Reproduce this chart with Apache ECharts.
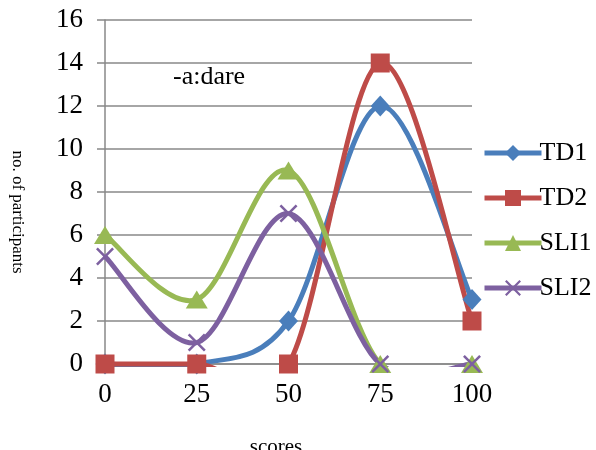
<!DOCTYPE html>
<html><head><meta charset="utf-8">
<script src="https://cdn.jsdelivr.net/npm/echarts@6/dist/echarts.min.js"></script>
<style>html,body{margin:0;padding:0;background:#fff}#c{width:596px;height:450px}</style>
</head><body><div id="c"></div>
<script>
const categories = ['0', '25', '50', '75', '100'];
const TD1 = [0, 0, 2, 12, 3];
const TD2 = [0, 0, 0, 14, 2];
const SLI1 = [6, 3, 9, 0, 0];
const SLI2 = [5, 1, 7, 0, 0];
const yTicks = [0, 2, 4, 6, 8, 10, 12, 14, 16];

const FONT = '"Liberation Serif", "Times New Roman", serif';
const crossPath = 'path://M0,1 L1,0 L5,4 L9,0 L10,1 L6,5 L10,9 L9,10 L5,6 L1,10 L0,9 L4,5 Z';

// Marker series (also used for the legend); line itself drawn by the curve series
function markerSeries(name, data, color, symbol, size) {
  return {
    name: name, type: 'line', data: data, z: 3,
    symbol: symbol, symbolSize: size, showSymbol: true,
    lineStyle: { color: color, width: 5, opacity: 0 },
    itemStyle: { color: color },
    emphasis: { disabled: true }
  };
}
// Excel-like smoothed curve (Catmull-Rom bezier) through the data points, via the axis scales,
// clipped to the plot area (parts dipping below 0 are hidden, as in the original)
function curveSeries(name, data, color) {
  const n = data.length;
  return {
    name: name + ' curve', type: 'custom', z: 2,
    data: data.map((v, i) => [i, v]),
    encode: { x: 0, y: 1 },
    silent: true,
    renderItem: function (params, api) {
      const i = params.dataIndex;
      if (i >= n - 1) return null;
      const P = k => { k = Math.max(0, Math.min(n - 1, k)); return api.coord([k, data[k]]); };
      const p0 = P(i - 1), p1 = P(i), p2 = P(i + 1), p3 = P(i + 2);
      const t = 1 / 6;
      const cs = params.coordSys;
      return {
        type: 'bezierCurve',
        shape: {
          x1: p1[0], y1: p1[1], x2: p2[0], y2: p2[1],
          cpx1: p1[0] + (p2[0] - p0[0]) * t, cpy1: p1[1] + (p2[1] - p0[1]) * t,
          cpx2: p2[0] - (p3[0] - p1[0]) * t, cpy2: p2[1] - (p3[1] - p1[1]) * t
        },
        clipPath: { type: 'rect', shape: { x: cs.x - 10, y: cs.y - 10, width: cs.width + 20, height: cs.height + 13 } },
        style: { stroke: color, lineWidth: 5, fill: null, lineCap: 'butt' }
      };
    }
  };
}

const C = { TD1: '#4A7EBB', TD2: '#BE4B48', SLI1: '#98B954', SLI2: '#7D60A0' };

const chart = echarts.init(document.getElementById('c'));
chart.setOption({
  animation: false,
  grid: { left: 105, right: 124, top: 20, bottom: 86, containLabel: false },
  legend: {
    data: ['TD1', 'TD2', 'SLI1', 'SLI2'],
    orient: 'vertical', left: 477, top: 135,
    itemWidth: 57, itemHeight: 20, itemGap: 19,
    lineStyle: { width: 5, opacity: 1 },
    textStyle: { fontFamily: FONT, fontSize: 26, color: '#000', padding: [0, 0, 0, -7] }
  },
  xAxis: {
    type: 'category', data: categories, boundaryGap: false,
    axisLine: { lineStyle: { color: '#888', width: 1.5 } },
    axisTick: { show: false },
    axisLabel: { fontFamily: FONT, fontSize: 27, color: '#000', margin: 17 }
  },
  yAxis: {
    type: 'value', min: 0, max: 16, interval: 2,
    axisLine: { show: true, lineStyle: { color: '#888', width: 1.5 } },
    axisTick: { show: true, length: 8, lineStyle: { color: '#888', width: 1.5 } },
    splitLine: { lineStyle: { color: '#888', width: 1.5 } },
    axisLabel: { fontFamily: FONT, fontSize: 27, color: '#000', margin: 22,
      formatter: v => yTicks.includes(v) ? String(v) : '' }
  },
  graphic: [
    { type: 'text', left: 173, top: 64, style: { text: '-a:dare', font: '26px ' + FONT, fill: '#000' } },
    { type: 'text', x: 17, y: 212, rotation: -Math.PI / 2,
      style: { text: 'no. of participants', font: '17px ' + FONT, fill: '#000', align: 'center', verticalAlign: 'middle' } },
    { type: 'text', x: 276, y: 437, style: { text: 'scores', font: '21px ' + FONT, fill: '#000', align: 'center', verticalAlign: 'top' } }
  ],
  series: [
    curveSeries('TD1', TD1, C.TD1),
    curveSeries('TD2', TD2, C.TD2),
    curveSeries('SLI1', SLI1, C.SLI1),
    curveSeries('SLI2', SLI2, C.SLI2),
    markerSeries('TD1', TD1, C.TD1, 'diamond', [19, 21]),
    markerSeries('TD2', TD2, C.TD2, 'rect', 19),
    markerSeries('SLI1', SLI1, C.SLI1, 'triangle', [22, 18]),
    markerSeries('SLI2', SLI2, C.SLI2, crossPath, 18)
  ]
});
</script></body></html>
